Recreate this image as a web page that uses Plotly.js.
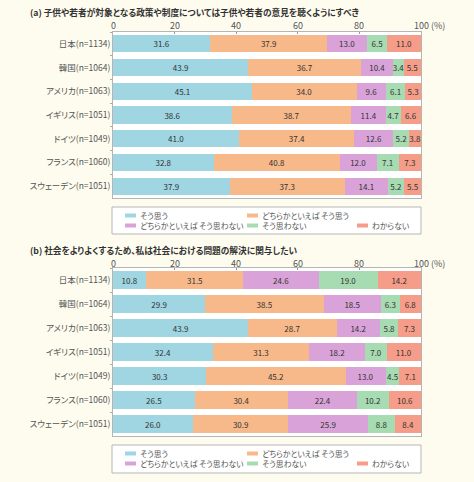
<!DOCTYPE html>
<html>
<head>
<meta charset="utf-8">
<script src="https://cdn.plot.ly/plotly-3.0.1.min.js"></script>
<style>
html,body{margin:0;padding:0;background:#fefcef;}
#chart{width:474px;height:482px;}
svg text{font-feature-settings:"palt" 1;}
</style>
</head>
<body>
<div id="chart"></div>
<script>
// ---- data ----
const categories = ['日本(n=1134)', '韓国(n=1064)', 'アメリカ(n=1063)', 'イギリス(n=1051)', 'ドイツ(n=1049)', 'フランス(n=1060)', 'スウェーデン(n=1051)'];
const seriesNames = ['そう思う', 'どちらかといえば そう思う', 'どちらかといえば そう思わない', 'そう思わない', 'わからない'];
const titleA = '(a) 子供や若者が対象となる政策や制度については子供や若者の意見を聴くようにすべき';
const titleB = '(b) 社会をよりよくするため、私は社会における問題の解決に関与したい';
const tickVals = [0, 20, 40, 60, 80, 100];
const tickText = ['0', '20', '40', '60', '80', '100'];
const unitText = '(%)';

// panel (a)
const a_souOmou   = [31.6, 43.9, 45.1, 38.6, 41.0, 32.8, 37.9];
const a_dochiraSo = [37.9, 36.7, 34.0, 38.7, 37.4, 40.8, 37.3];
const a_dochiraNo = [13.0, 10.4, 9.6, 11.4, 12.6, 12.0, 14.1];
const a_souNo     = [6.5, 3.4, 6.1, 4.7, 5.2, 7.1, 5.2];
const a_wakaranai = [11.0, 5.5, 5.3, 6.6, 3.8, 7.3, 5.5];

// panel (b)
const b_souOmou   = [10.8, 29.9, 43.9, 32.4, 30.3, 26.5, 26.0];
const b_dochiraSo = [31.5, 38.5, 28.7, 31.3, 45.2, 30.4, 30.9];
const b_dochiraNo = [24.6, 18.5, 14.2, 18.2, 13.0, 22.4, 25.9];
const b_souNo     = [19.0, 6.3, 5.8, 7.0, 4.5, 10.2, 8.8];
const b_wakaranai = [14.2, 6.8, 7.3, 11.0, 7.1, 10.6, 8.4];

// ---- styles ----
const colors = ['#9fd6e2', '#f8b98a', '#d9a3d9', '#a7dbb1', '#f59d88'];
const JP = '"Noto Sans CJK JP", "Noto Sans", sans-serif';
const W = 474, H = 482;
const px = v => v / W;
const py = v => 1 - v / H;

const seriesA = [a_souOmou, a_dochiraSo, a_dochiraNo, a_souNo, a_wakaranai];
const seriesB = [b_souOmou, b_dochiraSo, b_dochiraNo, b_souNo, b_wakaranai];

function makeTraces(series, xa, ya) {
  return series.map((vals, i) => ({
    type: 'bar', orientation: 'h',
    x: vals, y: categories,
    xaxis: xa, yaxis: ya,
    name: seriesNames[i],
    marker: {color: colors[i], line: {width: 0}},
    text: vals.map(v => v.toFixed(1)),
    textposition: 'inside',
    insidetextanchor: 'middle',
    textangle: 0,
    constraintext: 'none',
    textfont: {family: JP, size: 8, color: '#333'},
    hoverinfo: 'skip',
    showlegend: false
  }));
}

const data = [...makeTraces(seriesA, 'x', 'y'), ...makeTraces(seriesB, 'x2', 'y2')];

function xAxis(anchor) {
  return {
    domain: [px(113), px(421)], range: [0, 100], side: 'top', anchor: anchor,
    tickvals: tickVals, ticktext: tickText, showticklabels: false,
    ticks: 'inside', ticklen: 2, tickcolor: '#999',
    showgrid: false, zeroline: false,
    showline: true, mirror: true, linecolor: '#b5b5b5', linewidth: 1,
    fixedrange: true
  };
}
function yAxis(domain, anchor) {
  return {
    domain: domain, type: 'category', autorange: 'reversed', anchor: anchor,
    tickson: 'boundaries', ticks: 'outside', ticklen: 2, tickcolor: '#aaa',
    tickfont: {family: JP, size: 8.5, color: '#555'},
    showgrid: false, zeroline: false,
    showline: true, mirror: true, linecolor: '#b5b5b5', linewidth: 1,
    fixedrange: true
  };
}

// legend layout (pixel positions)
const legendBoxes = [{top: 207, bottom: 234}, {top: 445, bottom: 473}];
const legendItemPos = [
  {x: 125, row: 0}, {x: 247, row: 0}, {x: 125, row: 1}, {x: 247, row: 1}, {x: 357, row: 1}
];

const shapes = [];
const annotations = [];
const panels = [{title: titleA, titleY: 12.5, tickY: 25.5, xref: 'x'}, {title: titleB, titleY: 250, tickY: 263, xref: 'x2'}];
panels.forEach(p => {
  annotations.push({
    xref: 'paper', yref: 'paper', x: px(28), y: py(p.titleY),
    xanchor: 'left', yanchor: 'middle', showarrow: false, text: p.title,
    font: {family: JP, size: 8.7, color: '#333', weight: 'bold'}
  });
  tickVals.forEach((v, i) => {
    annotations.push({
      xref: p.xref, yref: 'paper', x: v, y: py(p.tickY),
      xanchor: 'center', yanchor: 'middle', showarrow: false, text: tickText[i],
      font: {family: JP, size: 9, color: '#555'}
    });
  });
  annotations.push({
    xref: 'paper', yref: 'paper', x: px(429), y: py(p.tickY),
    xanchor: 'left', yanchor: 'middle', showarrow: false, text: unitText,
    font: {family: JP, size: 9, color: '#555'}
  });
});

legendBoxes.forEach(box => {
  shapes.push({
    type: 'rect', xref: 'paper', yref: 'paper',
    x0: px(112), x1: px(421), y0: py(box.bottom), y1: py(box.top),
    line: {color: '#b5b5b5', width: 1}, fillcolor: '#ffffff', layer: 'below'
  });
  const rowY = [box.top + 8.5, box.top + 18.5];
  seriesNames.forEach((name, i) => {
    const p = legendItemPos[i];
    const cy = rowY[p.row];
    shapes.push({
      type: 'rect', xref: 'paper', yref: 'paper',
      x0: px(p.x), x1: px(p.x + 11), y0: py(cy + 2), y1: py(cy - 2),
      line: {width: 0}, fillcolor: colors[i]
    });
    annotations.push({
      xref: 'paper', yref: 'paper', x: px(p.x + 12.5), y: py(cy),
      xanchor: 'left', yanchor: 'middle', showarrow: false, text: name,
      font: {family: JP, size: 7.8, color: '#555'}
    });
  });
});

const layout = {
  width: W, height: H,
  margin: {l: 0, r: 0, t: 0, b: 0},
  paper_bgcolor: '#fefcef', plot_bgcolor: '#ffffff',
  barmode: 'stack', bargap: 0.28,
  showlegend: false,
  xaxis: xAxis('y'),
  yaxis: yAxis([py(198), py(32)], 'x'),
  xaxis2: xAxis('y2'),
  yaxis2: yAxis([py(436), py(268)], 'x2'),
  shapes: shapes,
  annotations: annotations
};

Plotly.newPlot('chart', data, layout, {displayModeBar: false, staticPlot: true});
</script>
</body>
</html>
